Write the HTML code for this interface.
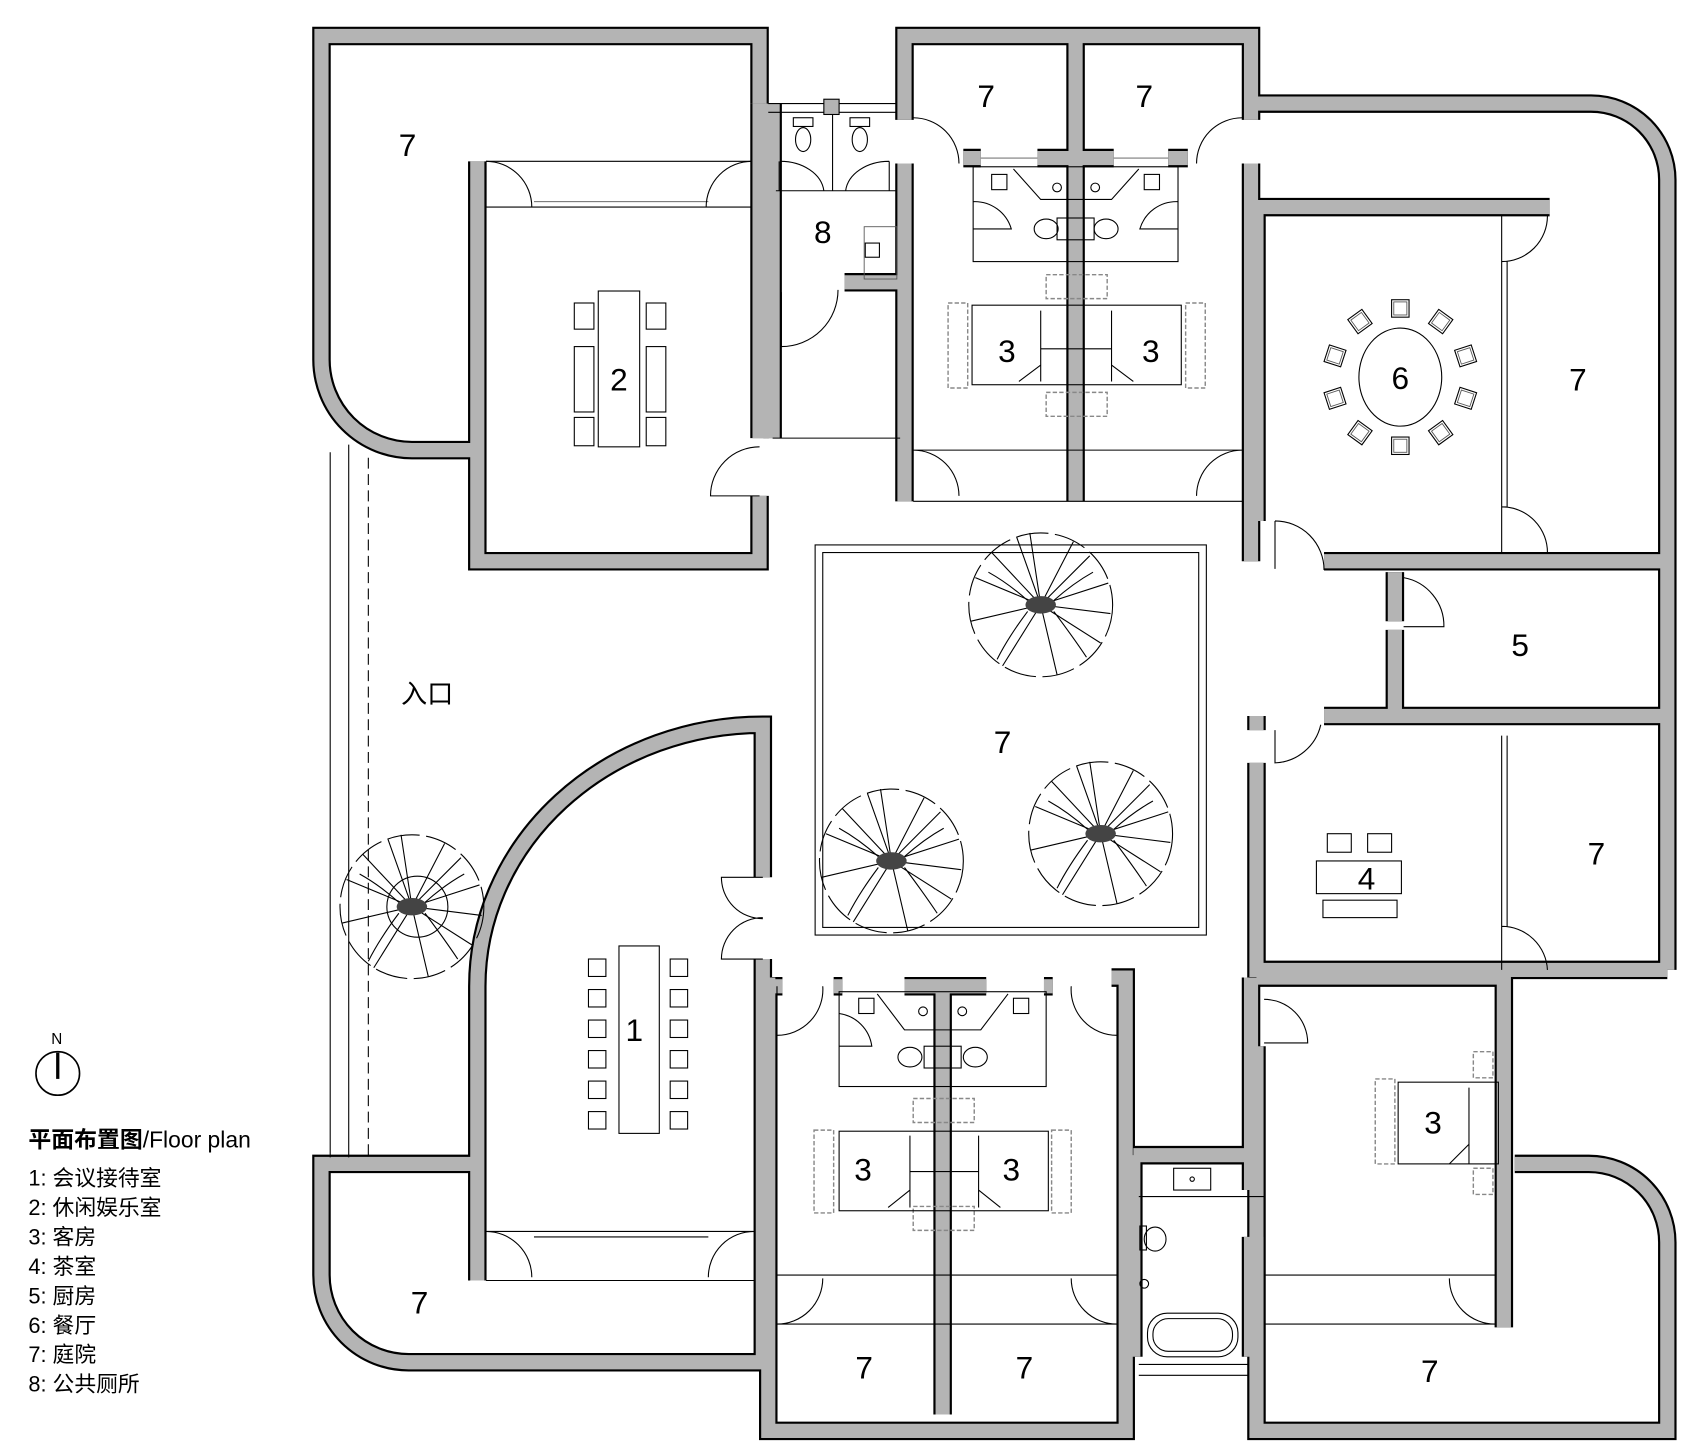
<!DOCTYPE html>
<html><head><meta charset="utf-8">
<style>
html,body{margin:0;padding:0;background:#fff;}
svg{display:block;}
text{font-family:"Liberation Sans","Noto Sans CJK SC",sans-serif;fill:#000;}
.n{font-size:29px;text-anchor:middle;dominant-baseline:central;}
.t{fill:none;stroke:#000;stroke-width:1;}
.th{fill:none;stroke:#555;stroke-width:0.8;}
.d{fill:none;stroke:#888;stroke-width:1.3;stroke-dasharray:4 2;}
.lg{font-size:20px;}
</style></head><body>
<svg width="1700" height="1456" viewBox="0 0 1560 1336" xmlns="http://www.w3.org/2000/svg">
<defs>
<g id="W" fill="none">
  <path d="M697,95 L697,33 L295,33 L295,330 A83,83 0 0 0 378,413 L438,413"/>
  <path d="M438,148 L438,515 L697,515 L697,455"/>
  <path d="M697,95 L697,402"/>
  <path d="M709,95 L709,402"/>
  <path d="M775,259 L826,259"/>
  <path d="M830,110 L830,33 L1148,33 L1148,110"/>
  <path d="M830,150 L830,460"/>
  <path d="M1148,150 L1148,515"/>
  <path d="M987,33 L987,145"/>
  <path d="M987,145 L987,460"/>
  <path d="M952,145 L1022,145"/>
  <path d="M884,145 L900,145"/>
  <path d="M1072,145 L1090,145"/>
  <path d="M1148,95 L1460,95 A70,70 0 0 1 1530,165 L1530,890"/>
  <path d="M1148,190 L1422,190"/>
  <path d="M1153,190 L1153,478"/>
  <path d="M1215,515 L1530,515"/>
  <path d="M1280,525 L1280,570"/>
  <path d="M1280,578 L1280,657"/>
  <path d="M1215,657 L1530,657"/>
  <path d="M1153,657 L1153,670"/>
  <path d="M1153,700 L1153,890 L1530,890"/>
  <path d="M1153,897 L1380,897 L1380,1218"/>
  <path d="M1153,960 L1153,1313 L1530,1313 L1530,1140 A72,72 0 0 0 1458,1068 L1390,1068"/>
  <path d="M1040,1060 L1148,1060"/>
  <path d="M1040,1060 L1040,1245"/>
  <path d="M1148,897 L1148,1092"/>
  <path d="M1148,1135 L1148,1245"/>
  <path d="M705,897 L705,1313 L1033,1313 L1033,897 L1020,897"/>
  <path d="M865,905 L865,1298"/>
  <path d="M830,905 L905,905"/>
  <path d="M765,905 L773,905"/>
  <path d="M958,905 L966,905"/>
  <path d="M705,905 L718,905"/>
  <path d="M700,805 L700,665 A262,240 0 0 0 438,905 L438,1175"/>
  <path d="M700,880 L700,1250 L375,1250 A80,80 0 0 1 295,1170 L295,1068 L438,1068"/>
</g>
<g id="tree">
  <circle cx="0" cy="0" r="66" class="t" stroke-dasharray="30 6"/>
  <path class="t" d="M0,0 L-45,-48 M0,0 L-10,-66 M0,0 L30,-58 M0,0 L62,-20 M0,0 L55,35 M0,0 L15,64 M0,0 L-35,56 M0,0 L-64,15 M0,0 L-60,-25 M0,0 L45,-45 M0,0 L-22,-62 M0,0 L64,8"/>
  <path class="t" d="M-48,-30 Q-30,-20 -12,-4 M12,-4 Q30,-20 48,-30 M-12,6 Q-30,30 -40,50 M12,6 Q30,30 42,48"/>
  <ellipse cx="0" cy="0" rx="14" ry="8" fill="#444" stroke="none"/>
</g>
<g id="chair"><rect x="-8" y="-8" width="16" height="16" class="t" fill="none"/><rect x="-6" y="-6" width="12" height="12" class="th"/></g>
</defs>

<use href="#W" stroke="#000" stroke-width="17"/>
<use href="#W" stroke="#b4b4b4" stroke-width="13"/>

<line x1="303" y1="415" x2="303" y2="1062" class="t"/>
<line x1="320" y1="408" x2="320" y2="1062" class="t"/>
<line x1="338" y1="420" x2="338" y2="1062" class="t" stroke-dasharray="10 5"/>

<line x1="446" y1="148" x2="690" y2="148" class="t"/>
<line x1="446" y1="190" x2="690" y2="190" class="t"/>
<line x1="490" y1="185" x2="650" y2="185" class="th"/>
<path class="t" d="M446,148 L446,190 M446,148 A42,42 0 0 1 488,190 M690,148 A42,42 0 0 0 648,190"/>
<rect x="549" y="267" width="38" height="143" class="t"/>
<rect x="527" y="278" width="18" height="24" class="t"/><rect x="593" y="278" width="18" height="24" class="t"/>
<rect x="527" y="318" width="18" height="60" class="t"/><rect x="593" y="318" width="18" height="60" class="t"/>
<rect x="527" y="383" width="18" height="26" class="t"/><rect x="593" y="383" width="18" height="26" class="t"/>
<path class="t" d="M697,455 L652,455 A45,45 0 0 1 697,410"/>
<line x1="709" y1="402" x2="826" y2="402" class="t"/>
<line x1="705" y1="95" x2="822" y2="95" class="t"/><line x1="705" y1="103" x2="822" y2="103" class="t"/>
<rect x="756" y="91" width="14" height="14" fill="#b4b4b4" stroke="#000"/>
<line x1="764" y1="105" x2="764" y2="175" class="t"/>
<rect x="728" y="108" width="18" height="8" class="t"/><ellipse cx="737" cy="128" rx="7" ry="11" class="t"/>
<rect x="780" y="108" width="18" height="8" class="t"/><ellipse cx="789" cy="128" rx="7" ry="11" class="t"/>
<path class="t" d="M712,175 L822,175 M715,148 L715,175 M816,148 L816,175 M716,148 A40,30 0 0 1 756,175 M816,148 A40,30 0 0 0 776,175"/>
<rect x="794" y="223" width="13" height="13" class="t"/><rect x="793" y="208" width="30" height="48" class="th"/>
<path class="t" d="M717,268 L717,318 A52,52 0 0 0 769,266"/>

<line x1="900" y1="145" x2="952" y2="145" class="th"/><line x1="1022" y1="145" x2="1072" y2="145" class="th"/>
<path class="t" d="M838,108 A42,42 0 0 1 880,150 M1140,108 A42,42 0 0 0 1098,150"/>
<rect x="893" y="153" width="188" height="87" class="t"/>
<rect x="910" y="160" width="14" height="14" class="t"/><rect x="1050" y="160" width="14" height="14" class="t"/>
<circle cx="970" cy="172" r="4" class="t"/><circle cx="1005" cy="172" r="4" class="t"/>
<path class="t" d="M930,155 L955,183 L1020,183 L1045,155 M893,185 A35,35 0 0 1 928,210 L893,210 M1081,185 A35,35 0 0 0 1046,210 L1081,210"/>
<ellipse cx="960" cy="210" rx="11" ry="9" class="t"/><ellipse cx="1015" cy="210" rx="11" ry="9" class="t"/>
<rect x="970" y="200" width="34" height="20" class="t"/>
<rect x="960" y="252" width="56" height="22" class="d"/>
<rect x="960" y="360" width="56" height="22" class="d"/>
<rect x="870" y="278" width="18" height="78" class="d"/><rect x="1088" y="278" width="18" height="78" class="d"/>
<rect x="892" y="280" width="192" height="73" class="t"/>
<path class="t" d="M955,285 L955,350 M1020,285 L1020,350 M955,320 L1020,320 M935,350 L955,335 L955,350 M1040,350 L1020,335"/>
<path class="t" d="M838,413 L1140,413 M838,460 L1140,460 M838,413 A42,42 0 0 1 880,455 M1140,413 A42,42 0 0 0 1098,455"/>

<ellipse cx="1285" cy="346" rx="38" ry="45" class="t"/>
<g transform="translate(1285,346)">
<use href="#chair" transform="rotate(0) translate(0,-63)"/><use href="#chair" transform="rotate(36) translate(0,-63)"/>
<use href="#chair" transform="rotate(72) translate(0,-63)"/><use href="#chair" transform="rotate(108) translate(0,-63)"/>
<use href="#chair" transform="rotate(144) translate(0,-63)"/><use href="#chair" transform="rotate(180) translate(0,-63)"/>
<use href="#chair" transform="rotate(216) translate(0,-63)"/><use href="#chair" transform="rotate(252) translate(0,-63)"/>
<use href="#chair" transform="rotate(288) translate(0,-63)"/><use href="#chair" transform="rotate(324) translate(0,-63)"/>
</g>
<path class="t" d="M1378,198 L1378,508 M1383,240 L1383,465 M1378,198 L1378,240 A42,42 0 0 0 1420,198 M1378,508 L1378,465 A42,42 0 0 1 1420,508"/>
<path class="t" d="M1170,478 L1170,522 M1170,478 A45,45 0 0 1 1215,523"/>
<path class="t" d="M1288,530 A45,45 0 0 1 1325,575 L1288,575"/>
<path class="t" d="M1170,670 L1170,700 A45,45 0 0 0 1212,665"/>
<rect x="1218" y="765" width="22" height="17" class="t"/><rect x="1255" y="765" width="22" height="17" class="t"/>
<rect x="1208" y="790" width="78" height="30" class="t"/>
<rect x="1214" y="826" width="68" height="16" class="t"/>
<path class="t" d="M1378,675 L1378,890 M1383,675 L1383,850 M1378,850 A42,42 0 0 1 1420,890"/>

<rect x="748" y="500" width="359" height="358" class="t"/>
<rect x="755" y="507" width="345" height="344" class="t"/>
<use href="#tree" transform="translate(955,555)"/>
<use href="#tree" transform="translate(818,790)"/>
<use href="#tree" transform="translate(1010,765)"/>
<use href="#tree" transform="translate(378,832)"/>
<circle cx="383" cy="832" r="28" class="t"/>

<rect x="568" y="868" width="37" height="172" class="t"/>
<g>
<rect x="540" y="880" width="16" height="16" class="t"/><rect x="540" y="908" width="16" height="16" class="t"/><rect x="540" y="936" width="16" height="16" class="t"/><rect x="540" y="964" width="16" height="16" class="t"/><rect x="540" y="992" width="16" height="16" class="t"/><rect x="540" y="1020" width="16" height="16" class="t"/>
<rect x="615" y="880" width="16" height="16" class="t"/><rect x="615" y="908" width="16" height="16" class="t"/><rect x="615" y="936" width="16" height="16" class="t"/><rect x="615" y="964" width="16" height="16" class="t"/><rect x="615" y="992" width="16" height="16" class="t"/><rect x="615" y="1020" width="16" height="16" class="t"/>
</g>
<path class="t" d="M700,805 L662,805 A38,38 0 0 0 700,843 M700,880 L662,880 A38,38 0 0 1 700,842"/>
<path class="t" d="M446,1130 L692,1130 M446,1175 L692,1175 M490,1135 L650,1135 M446,1130 A42,42 0 0 1 488,1172 M692,1130 A42,42 0 0 0 650,1172"/>

<path class="t" d="M713,905 L713,950 A42,42 0 0 0 755,905 M1025,905 L1025,950 A42,42 0 0 1 983,905"/>
<rect x="770" y="910" width="190" height="87" class="t"/>
<rect x="788" y="916" width="14" height="14" class="t"/><rect x="930" y="916" width="14" height="14" class="t"/>
<circle cx="847" cy="928" r="4" class="t"/><circle cx="883" cy="928" r="4" class="t"/>
<path class="t" d="M805,912 L830,945 L900,945 L925,912 M770,960 L800,960 A35,35 0 0 0 770,930"/>
<ellipse cx="835" cy="970" rx="11" ry="9" class="t"/><ellipse cx="895" cy="970" rx="11" ry="9" class="t"/>
<rect x="848" y="960" width="34" height="20" class="t"/>
<rect x="838" y="1008" width="56" height="22" class="d"/><rect x="838" y="1107" width="56" height="22" class="d"/>
<rect x="747" y="1037" width="18" height="76" class="d"/><rect x="965" y="1037" width="18" height="76" class="d"/>
<rect x="770" y="1038" width="192" height="73" class="t"/>
<path class="t" d="M835,1042 L835,1108 M898,1042 L898,1108 M835,1075 L898,1075 M815,1108 L835,1092 M918,1108 L898,1092"/>
<path class="t" d="M713,1170 L1025,1170 M713,1215 L1025,1215 M713,1215 A42,42 0 0 0 755,1173 M1025,1215 A42,42 0 0 1 983,1173"/>
<rect x="1077" y="1072" width="34" height="20" class="t"/><circle cx="1094" cy="1082" r="2" class="t"/>
<path class="t" d="M1045,1098 L1160,1098 L1160,1135"/>
<ellipse cx="1060" cy="1137" rx="10" ry="11" class="t"/><rect x="1046" y="1125" width="6" height="22" class="t"/>
<circle cx="1050" cy="1178" r="4" class="t"/>
<rect x="1053" y="1205" width="83" height="40" rx="18" class="t"/>
<rect x="1058" y="1210" width="73" height="30" rx="14" class="t"/>
<path class="t" d="M1045,1252 L1145,1252 M1045,1262 L1145,1262"/>
<path class="t" d="M1160,917 A40,40 0 0 1 1200,957 L1160,957"/>
<rect x="1262" y="990" width="18" height="78" class="d"/>
<rect x="1352" y="965" width="18" height="24" class="d"/><rect x="1352" y="1072" width="18" height="24" class="d"/>
<rect x="1283" y="993" width="92" height="75" class="t"/>
<path class="t" d="M1348,998 L1348,1068 M1330,1068 L1348,1050"/>
<path class="t" d="M1160,1170 L1372,1170 M1160,1215 L1372,1215 M1372,1215 A42,42 0 0 1 1330,1173"/>

<text class="n" x="374" y="133">7</text>
<text class="n" x="568" y="348">2</text>
<text class="n" x="755" y="213">8</text>
<text class="n" x="905" y="88">7</text>
<text class="n" x="1050" y="88">7</text>
<text class="n" x="924" y="322">3</text>
<text class="n" x="1056" y="322">3</text>
<text class="n" x="1285" y="347">6</text>
<text class="n" x="1448" y="348">7</text>
<text class="n" x="1395" y="592">5</text>
<text class="n" x="920" y="681">7</text>
<text x="368" y="645" style="font-size:24px">入口</text>
<text class="n" x="1254" y="806">4</text>
<text class="n" x="1465" y="783">7</text>
<text class="n" x="582" y="945">1</text>
<text class="n" x="792" y="1073">3</text>
<text class="n" x="928" y="1073">3</text>
<text class="n" x="1315" y="1030">3</text>
<text class="n" x="385" y="1195">7</text>
<text class="n" x="793" y="1255">7</text>
<text class="n" x="940" y="1255">7</text>
<text class="n" x="1312" y="1258">7</text>

<text x="47" y="958" style="font-size:14px">N</text>
<circle cx="53" cy="985" r="20" fill="none" stroke="#000" stroke-width="1.5"/>
<line x1="53" y1="966" x2="53" y2="990" stroke="#000" stroke-width="3"/>
<text x="26" y="1053" style="font-size:21px;font-weight:bold">平面布置图<tspan style="font-weight:normal">/Floor plan</tspan></text>
<text x="26" y="1088" class="lg">1:  会议接待室</text>
<text x="26" y="1115" class="lg">2:  休闲娱乐室</text>
<text x="26" y="1142" class="lg">3:  客房</text>
<text x="26" y="1169" class="lg">4:  茶室</text>
<text x="26" y="1196" class="lg">5:  厨房</text>
<text x="26" y="1223" class="lg">6:  餐厅</text>
<text x="26" y="1250" class="lg">7:  庭院</text>
<text x="26" y="1277" class="lg">8:  公共厕所</text>
</svg>
</body></html>
